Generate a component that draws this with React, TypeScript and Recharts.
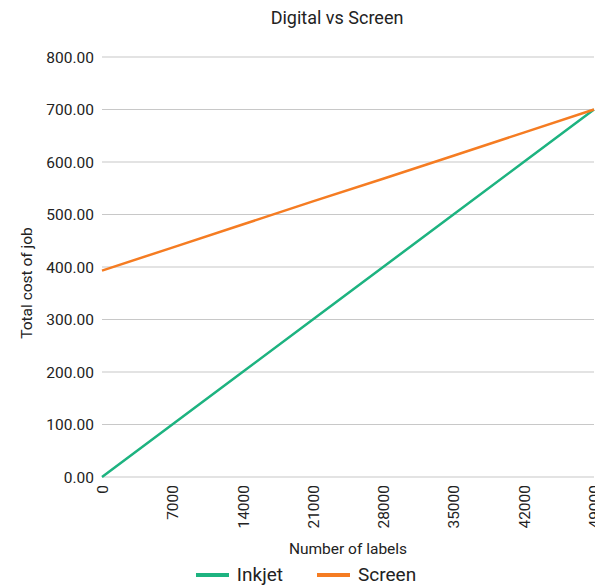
import { LineChart, Line, XAxis, YAxis, CartesianGrid, Legend } from 'recharts';

const labelCounts = [0, 7000, 14000, 21000, 28000, 35000, 42000, 49000];
const inkjetCost = [0, 100, 200, 300, 400, 500, 600, 700];
const screenCost = [393, 437, 481, 525, 568, 612, 656, 700];
const costTicks = [0, 100, 200, 300, 400, 500, 600, 700, 800];

const data = labelCounts.map((labels, i) => ({
  labels,
  Inkjet: inkjetCost[i],
  Screen: screenCost[i],
}));

const font = 'Roboto, "DejaVu Sans", sans-serif';

function LegendBox({ payload }: any) {
  return (
    <div style={styles.legend}>
      {(payload || []).map((item: any) => (
        <span key={item.value} style={styles.legendItem}>
          <span style={{ ...styles.legendLine, background: item.color }} />
          {item.value}
        </span>
      ))}
    </div>
  );
}

export default function App() {
  return (
    <div style={styles.page}>
      <div style={styles.title}>Digital vs Screen</div>
      <LineChart
        width={595}
        height={587}
        data={data}
        margin={{ top: 57, right: 1, bottom: 0, left: 0 }}
        style={{ fontFamily: font }}
      >
        <CartesianGrid vertical={false} stroke="#c8c8c8" strokeWidth={1.2} />
        <XAxis
          dataKey="labels"
          type="number"
          domain={[0, 49000]}
          ticks={labelCounts}
          interval={0}
          height={80}
          axisLine={false}
          tickLine={false}
          angle={-90}
          textAnchor="end"
          tick={{ fill: '#222', fontSize: 15.5, dx: -5, dy: 0 }}
          label={{ value: 'Number of labels', position: 'insideBottom', offset: 3, fill: '#222', fontSize: 15.5 }}
        />
        <YAxis
          type="number"
          domain={[0, 800]}
          ticks={costTicks}
          width={102}
          axisLine={false}
          tickLine={false}
          tickFormatter={(v: number) => v.toFixed(2)}
          tick={{ fill: '#222', fontSize: 15.5 }}
          label={{
            content: ({ viewBox }: any) => {
              const cy = viewBox.y + viewBox.height / 2 + 16;
              return (
                <text
                  x={27}
                  y={cy}
                  transform={`rotate(-90, 27, ${cy})`}
                  textAnchor="middle"
                  dominantBaseline="central"
                  fill="#222"
                  fontSize={15.5}
                >
                  Total cost of job
                </text>
              );
            },
          }}
        />
        <Legend verticalAlign="bottom" height={30} content={<LegendBox />} />
        <Line dataKey="Inkjet" stroke="#1db380" strokeWidth={2.5} dot={false} isAnimationActive={false} />
        <Line dataKey="Screen" stroke="#f57c22" strokeWidth={2.5} dot={false} isAnimationActive={false} />
      </LineChart>
    </div>
  );
}

const styles = {
  page: {
    position: 'absolute' as const,
    left: 0,
    top: 0,
    width: 595,
    height: 587,
    background: '#fff',
    overflow: 'hidden' as const,
  },
  title: {
    position: 'absolute' as const,
    top: 7,
    left: 0,
    width: 674,
    textAlign: 'center' as const,
    fontFamily: font,
    fontSize: 18,
    color: '#222',
  },
  legend: {
    display: 'flex',
    justifyContent: 'center',
    alignItems: 'center',
    paddingLeft: 18,
    marginTop: 6,
    fontFamily: font,
    fontSize: 19,
    color: '#222',
  },
  legendItem: {
    display: 'inline-flex',
    alignItems: 'center',
    margin: '0 17px',
  },
  legendLine: {
    display: 'inline-block',
    width: 33,
    height: 4,
    marginRight: 8,
  },
};
